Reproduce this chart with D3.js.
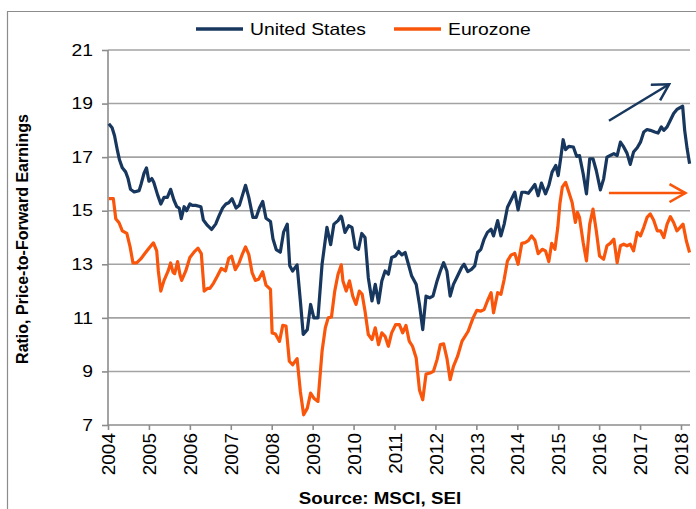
<!DOCTYPE html>
<html>
<head>
<meta charset="utf-8">
<script src="https://cdn.jsdelivr.net/npm/d3@7"></script>
<style>
	body { margin: 0; background: #fff; }
	text { font-family: "Liberation Sans", Arial, sans-serif; fill: #000; }
</style>
</head>
<body>
<div id="chart"></div>
<script>
// [decimal year, ratio]
const usSeries = [
	[2004.02,18.25],[2004.10,18.1],[2004.16,17.8],[2004.23,17.25],[2004.28,16.9],[2004.35,16.6],[2004.43,16.45],
	[2004.49,16.2],[2004.55,15.8],[2004.64,15.7],[2004.76,15.75],[2004.81,16.0],[2004.88,16.4],[2004.94,16.6],
	[2005.00,16.1],[2005.07,16.2],[2005.12,16.05],[2005.21,15.6],[2005.29,15.25],[2005.37,15.5],[2005.45,15.5],
	[2005.53,15.8],[2005.61,15.4],[2005.68,15.15],[2005.74,15.1],[2005.79,14.7],[2005.86,15.15],[2005.92,15.0],
	[2006.00,15.25],[2006.06,15.2],[2006.14,15.2],[2006.27,15.15],[2006.33,14.65],[2006.43,14.45],[2006.53,14.3],
	[2006.63,14.5],[2006.71,14.8],[2006.80,15.1],[2006.88,15.25],[2006.95,15.3],[2007.03,15.45],[2007.13,15.1],
	[2007.21,15.2],[2007.29,15.6],[2007.36,15.95],[2007.44,15.5],[2007.54,14.75],[2007.62,14.75],[2007.70,15.1],
	[2007.78,15.35],[2007.86,14.72],[2007.97,14.6],[2008.03,13.95],[2008.11,13.55],[2008.21,13.45],[2008.29,14.2],
	[2008.38,14.5],[2008.44,12.95],[2008.51,12.75],[2008.62,12.98],[2008.70,11.63],[2008.77,10.38],[2008.87,10.56],
	[2008.95,11.5],[2009.03,11.0],[2009.13,11.0],[2009.23,13.0],[2009.35,14.38],[2009.44,13.73],[2009.52,14.5],
	[2009.62,14.63],[2009.69,14.8],[2009.71,14.75],[2009.79,14.19],[2009.88,14.44],[2009.96,14.38],[2010.04,13.63],
	[2010.12,13.56],[2010.20,14.15],[2010.28,14.0],[2010.36,12.5],[2010.45,11.63],[2010.53,12.25],[2010.61,11.56],
	[2010.69,12.38],[2010.77,12.75],[2010.85,12.63],[2010.93,13.25],[2011.02,13.31],[2011.10,13.48],[2011.18,13.35],
	[2011.26,13.44],[2011.34,13.0],[2011.42,12.56],[2011.53,12.25],[2011.61,11.5],[2011.69,10.56],[2011.77,11.81],
	[2011.86,11.75],[2011.94,11.81],[2012.04,12.38],[2012.12,12.75],[2012.20,13.06],[2012.28,12.75],[2012.36,11.81],
	[2012.44,12.25],[2012.54,12.56],[2012.64,12.88],[2012.70,13.0],[2012.79,12.73],[2012.88,12.81],[2012.96,12.94],
	[2013.03,13.44],[2013.11,13.56],[2013.19,13.94],[2013.27,14.19],[2013.36,14.31],[2013.42,14.06],[2013.52,14.63],
	[2013.60,14.06],[2013.68,14.5],[2013.76,15.13],[2013.86,15.44],[2013.94,15.69],[2014.02,15.03],[2014.11,15.69],
	[2014.19,15.69],[2014.27,15.65],[2014.35,15.81],[2014.43,15.98],[2014.51,15.56],[2014.59,16.03],[2014.69,15.63],
	[2014.77,15.94],[2014.85,16.44],[2014.94,16.69],[2015.00,16.31],[2015.07,17.06],[2015.12,17.65],[2015.18,17.28],
	[2015.26,17.4],[2015.37,17.38],[2015.45,17.03],[2015.52,17.06],[2015.61,16.38],[2015.69,15.63],[2015.77,16.94],
	[2015.85,16.94],[2015.93,16.5],[2016.03,15.78],[2016.11,16.19],[2016.19,17.0],[2016.27,17.06],[2016.36,17.13],
	[2016.44,17.06],[2016.52,17.56],[2016.60,17.38],[2016.68,17.15],[2016.76,16.73],[2016.84,17.19],[2016.93,17.35],
	[2017.01,17.56],[2017.09,17.94],[2017.17,18.03],[2017.25,18.0],[2017.36,17.94],[2017.44,17.9],[2017.52,18.13],
	[2017.58,18.0],[2017.66,18.13],[2017.74,18.38],[2017.82,18.63],[2017.90,18.78],[2018.04,18.9],[2018.09,18.0],
	[2018.15,17.31],[2018.21,16.75]
];

const ezSeries = [
	[2004.02,15.45],[2004.13,15.45],[2004.19,14.7],[2004.27,14.55],[2004.35,14.25],[2004.46,14.15],[2004.54,13.65],
	[2004.61,13.05],[2004.70,13.05],[2004.80,13.2],[2004.90,13.4],[2005.00,13.6],[2005.11,13.8],[2005.19,13.5],
	[2005.23,12.75],[2005.29,12.0],[2005.37,12.4],[2005.47,12.75],[2005.53,13.05],[2005.59,12.7],[2005.63,12.65],
	[2005.70,13.1],[2005.76,12.6],[2005.80,12.4],[2005.90,12.75],[2006.00,13.25],[2006.10,13.45],[2006.20,13.6],
	[2006.28,13.4],[2006.35,12.0],[2006.43,12.1],[2006.49,12.1],[2006.58,12.3],[2006.67,12.55],[2006.77,12.85],
	[2006.87,12.75],[2006.95,13.22],[2007.02,13.3],[2007.11,12.8],[2007.19,13.0],[2007.28,13.37],[2007.36,13.65],
	[2007.44,13.37],[2007.52,12.69],[2007.60,12.4],[2007.68,12.44],[2007.78,12.72],[2007.86,12.22],[2007.97,12.06],
	[2008.01,10.44],[2008.09,10.4],[2008.19,10.12],[2008.27,10.72],[2008.35,10.69],[2008.43,9.38],[2008.51,9.25],
	[2008.62,9.48],[2008.70,8.25],[2008.78,7.38],[2008.87,7.63],[2008.95,8.19],[2009.03,8.0],[2009.13,7.88],
	[2009.23,9.75],[2009.31,10.63],[2009.38,11.0],[2009.46,11.03],[2009.54,12.0],[2009.62,12.63],[2009.70,12.98],
	[2009.74,12.38],[2009.82,12.0],[2009.90,12.38],[2009.98,11.81],[2010.06,11.5],[2010.14,12.0],[2010.21,11.88],
	[2010.28,11.25],[2010.36,10.38],[2010.45,10.19],[2010.53,10.63],[2010.61,10.0],[2010.69,10.44],[2010.77,10.31],
	[2010.85,9.94],[2010.93,10.44],[2011.03,10.75],[2011.12,10.75],[2011.20,10.44],[2011.28,10.72],[2011.36,10.13],
	[2011.44,9.94],[2011.53,9.5],[2011.61,8.31],[2011.69,7.94],[2011.77,8.9],[2011.87,8.94],[2011.95,9.0],
	[2012.04,9.44],[2012.12,10.0],[2012.20,10.03],[2012.28,9.5],[2012.36,8.69],[2012.44,9.19],[2012.54,9.56],
	[2012.65,10.13],[2012.80,10.5],[2012.92,11.0],[2013.01,11.28],[2013.11,11.25],[2013.19,11.31],[2013.27,11.63],
	[2013.36,11.94],[2013.42,11.19],[2013.52,11.94],[2013.60,11.88],[2013.68,12.44],[2013.76,13.13],[2013.85,13.35],
	[2013.94,13.4],[2014.02,13.0],[2014.11,13.78],[2014.19,13.81],[2014.27,13.88],[2014.35,14.06],[2014.43,13.9],
	[2014.51,13.4],[2014.61,13.56],[2014.69,13.5],[2014.77,13.1],[2014.84,13.78],[2014.92,13.56],[2014.99,14.38],
	[2015.04,15.25],[2015.10,15.88],[2015.18,16.06],[2015.26,15.69],[2015.34,15.31],[2015.42,14.56],[2015.47,14.94],
	[2015.52,14.75],[2015.61,13.81],[2015.69,13.13],[2015.77,14.5],[2015.85,15.06],[2015.93,14.25],[2016.01,13.31],
	[2016.11,13.19],[2016.19,13.69],[2016.27,13.78],[2016.36,13.94],[2016.44,13.06],[2016.52,13.69],[2016.60,13.75],
	[2016.68,13.69],[2016.76,13.75],[2016.84,13.5],[2016.93,14.19],[2017.01,14.06],[2017.09,14.38],[2017.17,14.75],
	[2017.25,14.88],[2017.33,14.65],[2017.42,14.25],[2017.50,14.25],[2017.58,14.0],[2017.66,14.5],[2017.74,14.78],
	[2017.82,14.56],[2017.90,14.25],[2017.98,14.38],[2018.05,14.5],[2018.13,13.88],[2018.21,13.44]
];

const seriesNames = ['United States', 'Eurozone'];
const seriesColors = ['#17375e', '#f9560c'];
const yearTicks = d3.range(2004, 2019);
const ratioTicks = [7, 9, 11, 13, 15, 17, 19, 21];
// trend arrows: [start, end] in [year, ratio]
const usArrow = [[2016.24, 18.36], [2017.71, 19.72]];
const ezArrow = [[2016.24, 15.66], [2018.11, 15.66]];

const W = 696;
const H = 509;
const margin = {t:50, r:6, b:84, l:108};
const innerWidth = W - margin.l - margin.r;
const innerHeight = H - margin.t - margin.b;
const sx = 1.17; // the source art is stretched horizontally

const scaleX = d3.scaleLinear().domain([2004, 2018]).range([0, 573]);
const scaleY = d3.scaleLinear().domain([7, 21]).range([innerHeight, 0]);

const lineGenerator = d3.line()
	.x(d => scaleX(d[0]))
	.y(d => scaleY(d[1]));

//stretch horizontal text to match the wide look of the reference
function widen(sel){
	sel.attr('lengthAdjust', 'spacingAndGlyphs')
		.attr('textLength', function(){ return this.getComputedTextLength() * sx; });
}

const svg = d3.select('#chart').append('svg')
	.attr('width', W)
	.attr('height', H)
	.style('display', 'block');

// outer frame (open on the right and bottom)
svg.append('path')
	.attr('d', `M7.5,${H} V11.5 H${W}`)
	.style('fill', 'none')
	.style('stroke', '#8c8c8c')
	.style('stroke-width', 1.2);

const defs = svg.append('defs');
seriesColors.forEach((c, i) => {
	defs.append('marker')
		.attr('id', 'head' + i)
		.attr('viewBox', '0 0 20 20')
		.attr('refX', 18).attr('refY', 10)
		.attr('markerWidth', 20).attr('markerHeight', 20)
		.attr('markerUnits', 'userSpaceOnUse')
		.attr('orient', 'auto')
		.append('path')
		.attr('d', 'M2,1 L18,10 L2,19')
		.style('fill', 'none')
		.style('stroke', c)
		.style('stroke-width', 2.5);
});

const plot = svg.append('g')
	.attr('class', 'plot')
	.attr('transform', `translate(${margin.l}, ${margin.t})`);

// gridlines
plot.append('g').attr('class', 'grid')
	.selectAll('line')
	.data(ratioTicks.slice(1))
	.enter().append('line')
	.attr('x1', 0).attr('x2', innerWidth)
	.attr('y1', d => scaleY(d)).attr('y2', d => scaleY(d))
	.style('stroke', '#a3a3a3')
	.style('stroke-width', 1.6);

const axisY = d3.axisLeft(scaleY)
	.tickValues(ratioTicks)
	.tickSizeInner(6)
	.tickSizeOuter(0)
	.tickPadding(9);
const axisX = d3.axisBottom(scaleX)
	.tickValues(yearTicks)
	.tickFormat(d3.format('d'))
	.tickSizeInner(5)
	.tickSizeOuter(0);

const gy = plot.append('g').attr('class', 'axis axis-y').call(axisY);
gy.select('.domain').remove();
gy.append('line')
	.attr('x1', 0).attr('x2', 0).attr('y1', 0).attr('y2', innerHeight)
	.style('stroke', '#8c8c8c').style('stroke-width', 1.6);
gy.selectAll('.tick line').style('stroke', '#8c8c8c').style('stroke-width', 1.6);
gy.selectAll('.tick text')
	.style('font-size', '16.5px')
	.call(widen);

const gx = plot.append('g').attr('class', 'axis axis-x')
	.attr('transform', `translate(0, ${innerHeight})`)
	.call(axisX);
gx.select('.domain').remove();
gx.append('line')
	.attr('x1', 0).attr('x2', innerWidth).attr('y1', 0).attr('y2', 0)
	.style('stroke', '#8c8c8c').style('stroke-width', 1.6);
gx.selectAll('.tick line').style('stroke', '#8c8c8c').style('stroke-width', 1.6);
gx.selectAll('.tick text')
	.style('font-size', '19px')
	.attr('text-anchor', 'end')
	.attr('x', -8).attr('y', 0).attr('dy', '0.35em')
	.attr('transform', 'rotate(-90)');

// series
[usSeries, ezSeries].forEach((data, i) => {
	plot.append('path')
		.datum(data)
		.attr('d', lineGenerator)
		.style('fill', 'none')
		.style('stroke', seriesColors[i])
		.style('stroke-width', 3.2)
		.style('stroke-linejoin', 'round');
});

// arrows
[usArrow, ezArrow].forEach((a, i) => {
	plot.append('line')
		.attr('x1', scaleX(a[0][0])).attr('y1', scaleY(a[0][1]))
		.attr('x2', scaleX(a[1][0])).attr('y2', scaleY(a[1][1]))
		.style('stroke', seriesColors[i])
		.style('stroke-width', 2.5)
		.attr('marker-end', `url(#head${i})`);
});

// legend
const legend = svg.append('g').attr('class', 'legend');
const legendX = [196, 394];
seriesNames.forEach((name, i) => {
	const g = legend.append('g').attr('transform', `translate(${legendX[i]}, 29)`);
	g.append('line')
		.attr('x1', 0).attr('x2', 47)
		.style('stroke', seriesColors[i])
		.style('stroke-width', 3.5);
	g.append('text')
		.attr('x', 54).attr('y', 6)
		.style('font-size', '16.5px')
		.text(name)
		.call(widen);
});

// titles
svg.append('text')
	.attr('transform', 'translate(22, 239) rotate(-90)')
	.attr('text-anchor', 'middle')
	.attr('dy', '0.35em')
	.style('font-size', '16px')
	.style('font-weight', 'bold')
	.text('Ratio, Price-to-Forward Earnings');

svg.append('text')
	.attr('x', 380).attr('y', 504)
	.attr('text-anchor', 'middle')
	.style('font-size', '16px')
	.style('font-weight', 'bold')
	.text('Source: MSCI, SEI')
	.call(widen);
</script>
</body>
</html>
